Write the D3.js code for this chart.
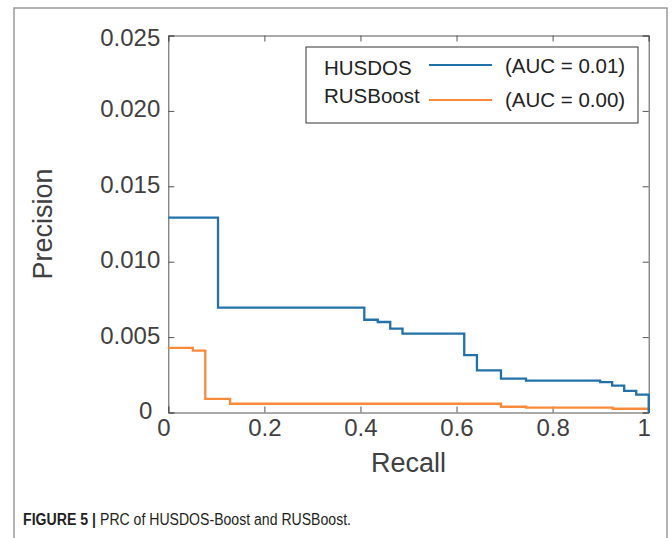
<!DOCTYPE html>
<html>
<head>
<meta charset="utf-8">
<script src="https://cdn.jsdelivr.net/npm/d3@7"></script>
<style>
  body { margin: 0; background: #fff; }
  svg { display: block; font-family: "Liberation Sans", Arial, Helvetica, sans-serif; }
</style>
</head>
<body>
<svg id="chart" width="672" height="538"></svg>
<script>
// data (step curves, value holds until next recall)
var husdosRecall = [0, 0.1035, 0.408, 0.436, 0.462, 0.4875, 0.616, 0.6425, 0.6925, 0.7446, 0.899, 0.924, 0.949, 0.974, 1];
var husdosPrecision = [0.01292, 0.00695, 0.00615, 0.0060, 0.00556, 0.00523, 0.00381, 0.0028, 0.00224, 0.00211, 0.00202, 0.00178, 0.00143, 0.00118, 0];
var rusRecall = [0, 0.051, 0.077, 0.1285, 0.6925, 0.745, 0.925, 1];
var rusPrecision = [0.00428, 0.0041, 0.0009, 0.00058, 0.00038, 0.00032, 0.00025, 0.00025];

var seriesNames = ['HUSDOS', 'RUSBoost'];
var aucLabels = ['(AUC = 0.01)', '(AUC = 0.00)'];
var xTicks = [0, 0.2, 0.4, 0.6, 0.8, 1];
var yTicks = [0, 0.005, 0.010, 0.015, 0.020, 0.025];
var captionBold = 'FIGURE 5 |';
var captionText = 'PRC of HUSDOS-Boost and RUSBoost.';

var colors = ['#2271a8', '#f98a3a'];
var axisColor = '#555';
var textColor = '#404040';

//------------------------------------------------------------
var svg = d3.select('#chart');

// outer figure frame (runs off the bottom of the picture)
svg.append('path').attr('d', 'M14,545 L14,8 L667,8 L667,545')
  .attr('fill', 'none').attr('stroke', '#9a9a9a').attr('stroke-width', 1.5);

// plot area edges ("top" is taken by window.top, so other names)
var plotLeft = 168.3, plotRight = 648.7, plotTop = 35.5, plotBottom = 412.5;
var x = d3.scaleLinear().domain([0, 1]).range([plotLeft, plotRight]);
var y = d3.scaleLinear().domain([0, 0.025]).range([plotBottom, plotTop]);

function styleAxis(g) {
  g.selectAll('path, line').attr('stroke', axisColor).attr('stroke-width', 1);
  g.selectAll('text').attr('fill', textColor).attr('font-size', 24).attr('font-family', null);
}

// left axis with labels, ticks point inward
var yAxis = svg.append('g').attr('transform', 'translate(' + plotLeft + ',0)')
  .call(d3.axisLeft(y).tickValues(yTicks).tickSize(-6).tickPadding(8)
    .tickFormat(function (d) { return d === 0 ? '0' : d3.format('.3f')(d); }))
  .call(styleAxis);
yAxis.selectAll('text')
  .attr('dx', function (d) { return d === 0 ? -8 : 0; })
  .attr('dy', function (d) { return d === 0.025 ? '0.4em' : '0.25em'; });

var xAxis = svg.append('g').attr('transform', 'translate(0,' + plotBottom + ')')
  .call(d3.axisBottom(x).tickValues(xTicks).tickSize(-6).tickPadding(6)
    .tickFormat(d3.format('')))
  .call(styleAxis);
xAxis.selectAll('text').attr('dx', function (d) { return (d === 0 || d === 1) ? -5 : 0; });

// box: top and right axes without labels
svg.append('g').attr('transform', 'translate(0,' + plotTop + ')')
  .call(d3.axisTop(x).tickValues(xTicks).tickSize(-6).tickFormat(''))
  .call(styleAxis);
svg.append('g').attr('transform', 'translate(' + plotRight + ',0)')
  .call(d3.axisRight(y).tickValues(yTicks).tickSize(-6).tickFormat(''))
  .call(styleAxis);

// curves
var line = d3.line().curve(d3.curveStepAfter)
  .x(function (d) { return x(d[0]); })
  .y(function (d) { return y(d[1]); });

var husdos = d3.zip(husdosRecall, husdosPrecision);
var rus = d3.zip(rusRecall, rusPrecision);

svg.append('path').datum(rus).attr('d', line)
  .attr('fill', 'none').attr('stroke', colors[1]).attr('stroke-width', 2.3);
svg.append('path').datum(husdos).attr('d', line)
  .attr('fill', 'none').attr('stroke', colors[0]).attr('stroke-width', 2.3);

// axis titles
svg.append('text').attr('x', (plotLeft + plotRight) / 2).attr('y', 472)
  .attr('text-anchor', 'middle').attr('font-size', 27).attr('fill', textColor).text('Recall');
svg.append('text').attr('transform', 'translate(52,' + ((plotTop + plotBottom) / 2) + ') rotate(-90)')
  .attr('text-anchor', 'middle').attr('font-size', 27).attr('fill', textColor).text('Precision');

// legend
var legend = svg.append('g');
legend.append('rect').attr('x', 306).attr('y', 47).attr('width', 332).attr('height', 76)
  .attr('fill', '#fff').attr('stroke', '#333').attr('stroke-width', 1);
var legendRows = [{ name: seriesNames[0], auc: aucLabels[0], lineY: 65, nameY: 75, aucY: 73 },
                  { name: seriesNames[1], auc: aucLabels[1], lineY: 100, nameY: 103, aucY: 107 }];
legendRows.forEach(function (r, i) {
  legend.append('text').attr('x', 324).attr('y', r.nameY).attr('font-size', 20.5)
    .attr('fill', '#222').text(r.name);
  legend.append('line').attr('x1', 429).attr('x2', 492).attr('y1', r.lineY).attr('y2', r.lineY)
    .attr('stroke', colors[i]).attr('stroke-width', 2);
  legend.append('text').attr('x', 505).attr('y', r.aucY).attr('font-size', 20.5)
    .attr('fill', '#222').text(r.auc);
});

// caption, two pieces squeezed to the reference widths
svg.append('text').attr('x', 23).attr('y', 525).attr('font-size', 16).attr('font-weight', 'bold')
  .attr('fill', '#231f20').attr('textLength', 73).attr('lengthAdjust', 'spacingAndGlyphs')
  .text(captionBold);
svg.append('text').attr('x', 100).attr('y', 525).attr('font-size', 16)
  .attr('fill', '#231f20').attr('textLength', 251).attr('lengthAdjust', 'spacingAndGlyphs')
  .text(captionText);
</script>
</body>
</html>
